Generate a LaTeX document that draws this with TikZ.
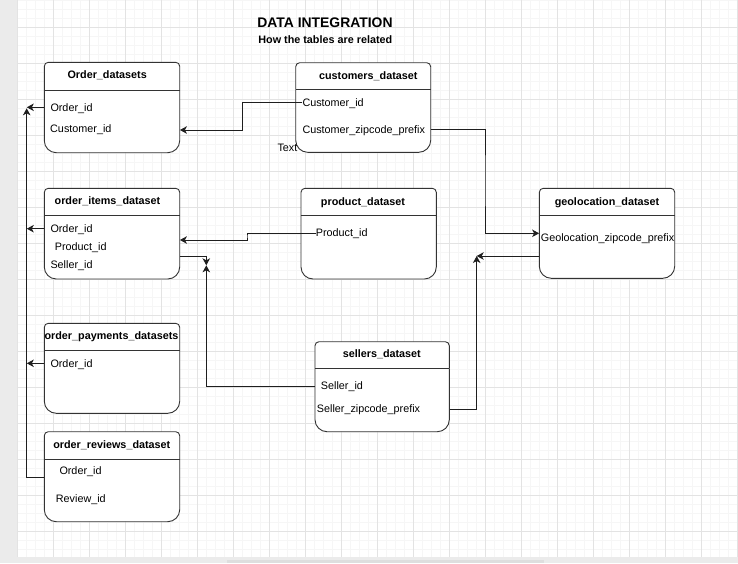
\documentclass[tikz,border=0pt]{standalone}
\usepackage{fontspec}
\setmainfont{Liberation Sans}
\usetikzlibrary{arrows.meta,fit,calc}
\definecolor{strip}{HTML}{EBEBEB}
\definecolor{thumb}{HTML}{DEDEDE}
\definecolor{majorg}{HTML}{E3E3E3}
\definecolor{minorg}{HTML}{F6F6F6}
\definecolor{linec}{HTML}{1E1E1E}
\definecolor{boxc}{HTML}{333333}
\tikzset{
  boxline/.style={draw=boxc,line width=0.9pt},
  conn/.style={draw=linec,line width=0.9pt,-{Stealth[length=7pt,width=7.5pt,inset=2pt]}},
  fld/.style={anchor=west,inner sep=0pt,text height=7.7pt,text depth=0pt,font=\fontsize{10.8}{13}\selectfont},
  ttl/.style={inner sep=0pt,text height=7.7pt,text depth=0pt,font=\fontsize{10.8}{13}\selectfont\bfseries},
  majorline/.style={draw=majorg,line width=0.8pt},
  minorline/.style={draw=minorg,line width=0.8pt},
}
% name, left, top, right, bottom, separator
\newcommand\dbtable[6]{%
  \fill[white,rounded corners=4pt] (#2,#3) rectangle (#4,#5-12);
  \fill[white,rounded corners=12pt] (#2,#6) rectangle (#4,#5);
  \draw[boxline,rounded corners=4pt] (#2,#6) -- (#2,#3) -- (#4,#3) -- (#4,#6);
  \draw[boxline,rounded corners=12pt] (#2,#6) -- (#2,#5) -- (#4,#5) -- (#4,#6);
  \draw[boxline] (#2,#6) -- (#4,#6);
  \path (#2,#3) coordinate (#1-nw) (#4,#5) coordinate (#1-se);
  \node[fit=(#1-nw)(#1-se),inner sep=0pt] (#1) {};
}
\begin{document}
\begin{tikzpicture}[x=1pt,y=-1pt]
\useasboundingbox (0,0) rectangle (738,563);
% background
\fill[strip] (0,0) rectangle (738,563);
\fill[white] (17,0) rectangle (738,556.7);
\fill[thumb] (227.3,560) rectangle (544,563);
\foreach \i in {0,...,80} \draw[minorline] (17+9*\i,0) -- (17+9*\i,556.7);
\foreach \j in {0,...,61} \draw[minorline] (17,9*\j) -- (738,9*\j);
\foreach \i in {0,...,20} \draw[majorline] (17+36*\i,0) -- (17+36*\i,556.7);
\foreach \j in {0,...,14} \draw[majorline] (17,27+36*\j) -- (738,27+36*\j);

% titles
\node[inner sep=0pt,text height=9.95pt,text depth=0pt,font=\fontsize{13.9}{16}\selectfont\bfseries] (maintitle) at (325,22.3) {DATA INTEGRATION};
\node[ttl] (subtitle) at (325.3,39.3) {How the tables are related};

% tables
\dbtable{od}{44.3}{62.3}{179.7}{152.7}{90}
\node[ttl] (od-t) at (107.2,75) {Order\_datasets};
\node[fld] (od1) at (50.3,107.3) {Order\_id};
\node[fld] (od2) at (50,129) {Customer\_id};

\dbtable{cd}{295.7}{62.7}{430.7}{152.3}{89.3}
\node[ttl] (cd-t) at (368.3,75.3) {customers\_dataset};
\node[fld] (cd1) at (302.3,102.3) {Customer\_id};
\node[fld] (cd2) at (302.3,129.3) {Customer\_zipcode\_prefix};

\dbtable{oi}{44.3}{188.3}{179.7}{279}{215.7}
\node[ttl] (oi-t) at (107.5,201) {order\_items\_dataset};
\node[fld] (oi1) at (50.3,228.7) {Order\_id};
\node[fld] (oi2) at (54.7,246.3) {Product\_id};
\node[fld] (oi3) at (50.3,264.3) {Seller\_id};

\dbtable{op}{44.3}{323.3}{179.7}{413.3}{350.7}
\node[ttl] (op-t) at (111.5,336) {order\_payments\_datasets};
\node[fld] (op1) at (50.3,363.3) {Order\_id};

\dbtable{rv}{44.3}{431.7}{179.7}{521.7}{459}
\node[ttl] (rv-t) at (111.8,444.3) {order\_reviews\_dataset};
\node[fld] (rv1) at (59.3,471) {Order\_id};
\node[fld] (rv2) at (55.7,498.3) {Review\_id};

\dbtable{pd}{301}{188.3}{436.3}{279}{215}
\node[ttl] (pd-t) at (363,201.3) {product\_dataset};
\node[fld] (pd1) at (315.7,233) {Product\_id};

\dbtable{gd}{539.3}{188.3}{674.7}{278.3}{215.7}
\node[ttl] (gd-t) at (607,201.3) {geolocation\_dataset};
\node[fld] (gd1) at (540.7,237.3) {Geolocation\_zipcode\_prefix};

\dbtable{sd}{315}{341.7}{449.3}{431.7}{368.7}
\node[ttl] (sd-t) at (381.8,354) {sellers\_dataset};
\node[fld] (sd1) at (320.7,386) {Seller\_id};
\node[fld] (sd2) at (316.7,408.7) {Seller\_zipcode\_prefix};

\node[fld] (txt) at (277.3,147.3) {Text};

% connectors
\draw[conn] (cd1.west) -| (242.3,116) |- (od.east |- 0,130);
\draw[conn] (od.west |- od1.center) -- ++(-17.3,0);
\draw[conn] (oi.west |- oi1.center) -- ++(-17.3,0);
\draw[conn] (op.west |- op1.center) -- ++(-17.3,0);
\draw[conn] (rv.west |- 0,477.3) -| (26.7,108.3);
\draw[conn] (pd1.west) -| (247,236) |- (oi.east |- 0,240);
\draw[conn] (oi.east |- 0,256) -| (206.3,265.3);
\draw[conn] (sd.west |- sd1.center) -| (206.3,265.3);
\draw[conn] (cd.east |- cd2.center) -| (485,180) |- (gd.west |- 0,233.3);
\draw[conn] (gd.west |- 0,256) -- (476.7,256);
\draw[conn] (sd.east |- 0,409.3) -| (476.7,256);
\end{tikzpicture}
\end{document}
